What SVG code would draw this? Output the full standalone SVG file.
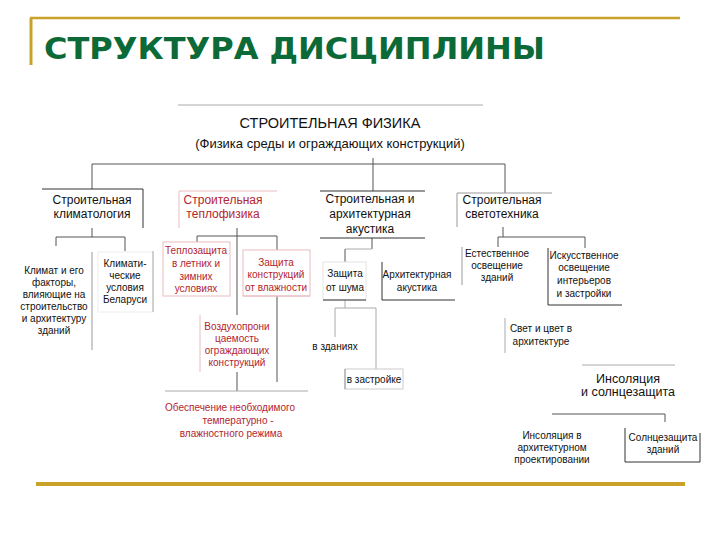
<svg xmlns="http://www.w3.org/2000/svg" width="720" height="540" viewBox="0 0 720 540">
<style>
text{font-family:"Liberation Sans",Arial,sans-serif;fill:#111;text-anchor:middle}
.t12{font-size:12px}
.t10{font-size:10px}
.t13{font-size:12.5px}
.red{fill:#b3252f}
.ln{stroke:#555;stroke-width:1;fill:none}
.lt{stroke:#aaa;stroke-width:1;fill:none}
.dk{stroke:#333;stroke-width:1;fill:none}
.gy{stroke:#999;stroke-width:1;fill:none}
.pk{stroke:#e9bcc0;stroke-width:1;fill:none}
.gold{stroke:#c9a22a;fill:none}
</style>
<rect width="720" height="540" fill="#fff"/>
<g id="frame">
<path class="gold" stroke-width="2.5" d="M30,18 H680"/>
<path class="gold" stroke-width="3" d="M31,18 V65"/>
<path class="gold" stroke-width="4" d="M36,484 H685"/>
<text x="44" y="59" font-family="'DejaVu Sans',sans-serif" font-weight="bold" font-size="30" fill="#0b6a37" style="text-anchor:start;fill:#0b6a37;font-family:'DejaVu Sans',sans-serif" textLength="501" lengthAdjust="spacingAndGlyphs">СТРУКТУРА ДИСЦИПЛИНЫ</text>
</g>
<g id="connectors">
<path class="ln" d="M373,158 V191"/>
<path class="ln" d="M92,164 H505 M92,164 V189 M505,164 V193"/>
<path class="ln" d="M92,228 V237 M56,237 H125 M56,237 V246 M125,237 V251"/>
<path class="ln" d="M237,228 V236 M197,236 H277 M197,236 V242 M237,236 V315 M277,236 V250 M277,296 V382 M237,372 V391"/>
<path class="ln" d="M372,238 V249 M345,249 V262"/>
<path class="lt" d="M345,249 H372"/>
<path class="lt" d="M345,300 V308 M335,308 H376 M335,308 V337 M376,308 V369"/>
<path class="ln" d="M503,227 V237 M498,237 H585 M498,237 V247 M585,237 V248"/>
<path class="ln" d="M552,414 H665 V422"/>
</g>
<g id="n-root">
<path class="lt" d="M178,105 H483"/>
<text class="t13" x="330" y="128" style="font-size:14.5px">СТРОИТЕЛЬНАЯ ФИЗИКА</text>
<text class="t13" x="330" y="148" style="font-size:13px">(Физика среды и ограждающих конструкций)</text>
</g>
<g id="n-klim">
<path class="dk" d="M42,189 H143 V228"/>
<text class="t12" x="92" y="204">Строительная</text>
<text class="t12" x="92" y="218">климатология</text>
</g>
<g id="n-teplo">
<path class="pk" d="M179,228 V191 H277"/>
<text class="t12 red" x="223" y="204">Строительная</text>
<text class="t12 red" x="223" y="218">теплофизика</text>
</g>
<g id="n-akust">
<path class="dk" d="M320,191 H425 M320,238 H425"/>
<text class="t12" x="370" y="203">Строительная и</text>
<text class="t12" x="370" y="218">архитектурная</text>
<text class="t12" x="370" y="233">акустика</text>
</g>
<g id="n-svet">
<path class="gy" d="M457,227 V193 H552"/>
<text class="t12" x="502" y="204">Строительная</text>
<text class="t12" x="502" y="218">светотехника</text>
</g>
<g id="n-klimat-factors">
<path class="gy" d="M92,252 V350"/>
<text class="t10" x="54" y="274">Климат и его</text>
<text class="t10" x="54" y="286">факторы,</text>
<text class="t10" x="54" y="298">влияющие на</text>
<text class="t10" x="54" y="310">строительство</text>
<text class="t10" x="54" y="322">и архитектуру</text>
<text class="t10" x="54" y="334">зданий</text>
</g>
<g id="n-klimat-bel">
<rect x="98" y="252" width="55" height="60" fill="none" stroke="#eee"/>
<path class="lt" d="M153,251 V312"/>
<text class="t10" x="125" y="267">Климати-</text>
<text class="t10" x="125" y="279">ческие</text>
<text class="t10" x="125" y="291">условия</text>
<text class="t10" x="125" y="303">Беларуси</text>
</g>
<g id="n-teplozash">
<rect class="pk" x="163" y="242" width="67" height="54"/>
<text class="t10 red" x="196" y="254">Теплозащита</text>
<text class="t10 red" x="196" y="267">в летних и</text>
<text class="t10 red" x="196" y="280">зимних</text>
<text class="t10 red" x="196" y="292">условиях</text>
</g>
<g id="n-vlag">
<rect class="pk" x="243" y="250" width="67" height="46" stroke="#f0d4d6"/>
<path class="pk" d="M243,296 H310"/>
<text class="t10 red" x="276" y="266">Защита</text>
<text class="t10 red" x="276" y="278">конструкций</text>
<text class="t10 red" x="276" y="291">от влажности</text>
</g>
<g id="n-vozd">
<path class="pk" d="M200,315 V372"/>
<text class="t10 red" x="237" y="330">Воздухопрони</text>
<text class="t10 red" x="237" y="342">цаемость</text>
<text class="t10 red" x="237" y="354">ограждающих</text>
<text class="t10 red" x="237" y="366">конструкций</text>
</g>
<g id="n-rezhim">
<path class="lt" d="M165,391 H308"/>
<text class="t10 red" x="230" y="411">Обеспечение необходимого</text>
<text class="t10 red" x="238" y="424">температурно  -</text>
<text class="t10 red" x="231" y="437">влажностного режима</text>
</g>
<g id="n-shum">
<rect x="323" y="262" width="43" height="38" fill="none" stroke="#e4e4e4"/>
<path class="dk" d="M323,300 H366"/>
<text class="t10" x="345" y="277">Защита</text>
<text class="t10" x="345" y="291">от шума</text>
</g>
<g id="n-arhakust">
<path class="dk" d="M382,262 V300 H455"/>
<text class="t10" x="417" y="278">Архитектурная</text>
<text class="t10" x="417" y="291">акустика</text>
</g>
<g id="n-zdaniya">
<text class="t10" x="335" y="350">в зданиях</text>
</g>
<g id="n-zastroyka">
<rect x="345" y="369" width="58" height="20" fill="none" stroke="#ccc"/>
<path class="gy" d="M345,369 V389"/>
<text class="t10" x="374" y="383">в застройке</text>
</g>
<g id="n-estestv">
<path class="gy" d="M462,247 V285"/>
<text class="t10" x="497" y="257">Естественное</text>
<text class="t10" x="497" y="269">освещение</text>
<text class="t10" x="497" y="281">зданий</text>
</g>
<g id="n-iskusstv">
<path class="dk" d="M548,248 V305 H622"/>
<text class="t10" x="584" y="259">Искусственное</text>
<text class="t10" x="584" y="271">освещение</text>
<text class="t10" x="584" y="284">интерьеров</text>
<text class="t10" x="584" y="297">и застройки</text>
</g>
<g id="n-svetcvet">
<path class="lt" d="M505,318 V353"/>
<text class="t10" x="541" y="332">Свет и цвет в</text>
<text class="t10" x="541" y="345">архитектуре</text>
</g>
<g id="n-insol">
<path class="lt" d="M582,365 H675"/>
<text class="t13" x="628" y="383">Инсоляция</text>
<text class="t13" x="628" y="396">и солнцезащита</text>
</g>
<g id="n-insol-arh">
<text class="t10" x="552" y="439">Инсоляция в</text>
<text class="t10" x="552" y="451">архитектурном</text>
<text class="t10" x="552" y="463">проектировании</text>
</g>
<g id="n-solnce">
<path class="dk" d="M625,428 V462 H700 V433"/>
<text class="t10" x="663" y="441">Солнцезащита</text>
<text class="t10" x="663" y="453">зданий</text>
</g>
</svg>
